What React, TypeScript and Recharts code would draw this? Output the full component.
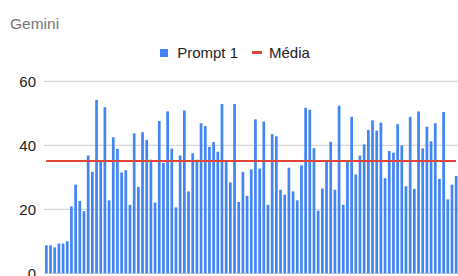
import { ComposedChart, Bar, Line, XAxis, YAxis, CartesianGrid, Legend } from "recharts";

const BLUE = "#4285f4";
const RED = "#e0453a";

// values, one per bar, left to right
const prompt1 = [
  8.75, 8.75, 8.1, 9.3, 9.3, 10, 20.9, 27.7, 22.6, 19.4,
  36.8, 31.7, 54.2, 35, 51.9, 22.8, 42.5, 38.9, 31.5, 32.2,
  21.4, 43.75, 27, 44.1, 41.7, 35.5, 22.1, 47.6, 34.5, 50.6,
  39, 20.6, 36.8, 50.9, 25.6, 37.5, 35.5, 46.9, 46, 39.5,
  41, 38, 52.9, 35, 28.4, 52.9, 22.3, 31.7, 24.2, 32.5,
  48.1, 32.7, 47.4, 21.4, 43.5, 42.8, 26.1, 24.6, 33, 25.6,
  22.8, 33.75, 51.7, 51.1, 39.1, 19.6, 26.5, 34.9, 41.1, 26.1,
  52.4, 21.4, 34.9, 48.9, 30.9, 36.8, 40.3, 44.8, 47.8, 44.6,
  47.1, 29.7, 38.2, 37.7, 46.6, 39.9, 27.2, 48.9, 26.4, 50.6,
  39, 45.8, 41.25, 46.9, 29.5, 50.4, 23.1, 27.7, 30.4,
];
const media = 35.1;
const yTicks = [0, 20, 40, 60];

const data = prompt1.map((v, i) => ({ name: String(i + 1), prompt1: v, media }));

const LegendContent = () => (
  <div style={{ display: "flex", justifyContent: "center", alignItems: "center", paddingLeft: 12, fontSize: 15, lineHeight: "17px", color: "#222" }}>
    <span style={{ width: 8, height: 8, background: BLUE, display: "inline-block" }} />
    <span style={{ marginLeft: 9 }}>Prompt 1</span>
    <span style={{ width: 10, height: 2.5, background: RED, display: "inline-block", marginLeft: 14 }} />
    <span style={{ marginLeft: 7 }}>Média</span>
  </div>
);

export default function App() {
  return (
    <div style={{ position: "absolute", left: 0, top: 0, width: 458, height: 276, overflow: "hidden", background: "#fff", fontFamily: "'Liberation Sans', Arial, sans-serif" }}>
      <div style={{ position: "absolute", left: 10, top: 15, fontSize: 15.5, lineHeight: "17px", color: "#757575" }}>Gemini</div>
      <ComposedChart width={458} height={276} data={data} margin={{ top: 81.3, right: 0, bottom: 2.7, left: 0 }}>
        <CartesianGrid vertical={false} stroke="#cccccc" />
        <XAxis dataKey="name" height={0} tick={false} tickLine={false} axisLine={{ stroke: "#333" }} />
        <YAxis
          width={44}
          domain={[0, 60]}
          ticks={yTicks}
          interval={0}
          axisLine={false}
          tickLine={false}
          tick={{ fill: "#222", fontSize: 15 }}
        />
        <Legend verticalAlign="middle" content={<LegendContent />} wrapperStyle={{ top: 44, left: 0, width: 458 }} />
        <Bar dataKey="prompt1" name="Prompt 1" fill={BLUE} barSize={2.7} isAnimationActive={false} />
        <Line dataKey="media" name="Média" stroke={RED} strokeWidth={2} dot={false} isAnimationActive={false} />
      </ComposedChart>
    </div>
  );
}
